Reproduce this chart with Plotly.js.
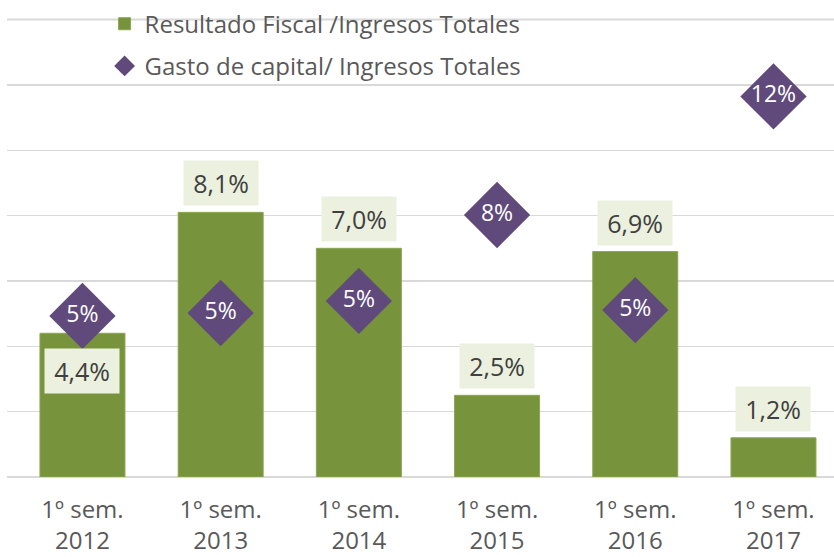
<!DOCTYPE html>
<html>
<head>
<meta charset="utf-8">
<script src="https://cdn.plot.ly/plotly-3.0.1.min.js"></script>
<style>html,body{margin:0;padding:0;background:#fff}#chart{width:834px;height:557px}</style>
</head>
<body>
<div id="chart"></div>
<script>
const categories = ["1º sem.<br>2012", "1º sem.<br>2013", "1º sem.<br>2014", "1º sem.<br>2015", "1º sem.<br>2016", "1º sem.<br>2017"];
const resultadoName = "Resultado Fiscal /Ingresos Totales";
const gastoName = "Gasto de capital/ Ingresos Totales";
const resultado = [4.4, 8.1, 7.0, 2.5, 6.9, 1.2];
const resultadoLabels = ["4,4%", "8,1%", "7,0%", "2,5%", "6,9%", "1,2%"];
const gasto = [4.93, 5.02, 5.39, 8.02, 5.11, 11.65];
const gastoLabels = ["5%", "5%", "5%", "8%", "5%", "12%"];
const yGrid = [0, 2, 4, 6, 8, 10, 12, 14];

const FONT = "Open Sans, Lato, sans-serif";
const GREEN = "#77933C";
const PURPLE = "#604A7B";
const GRID = "#D9D9D9";

const traces = [
  {
    type: "bar",
    name: resultadoName,
    x: categories,
    y: resultado,
    width: 0.615,
    marker: {color: GREEN, line: {color: "#8aa653", width: 1}},
    hoverinfo: "skip",
    legendgroup: "a"
  },
  {
    type: "scatter",
    mode: "markers+text",
    name: gastoName,
    x: categories,
    y: gasto,
    text: gastoLabels,
    textposition: "middle center",
    textfont: {family: FONT, size: 23, color: "#ffffff"},
    marker: {symbol: "diamond", size: 51, color: PURPLE},
    cliponaxis: false,
    hoverinfo: "skip",
    legendgroup: "b"
  }
];

const annotations = resultado.map((v, i) => {
  const inside = (i === 0);
  return {
    x: i, y: v, xref: "x", yref: "y",
    text: resultadoLabels[i],
    showarrow: false,
    yanchor: inside ? "top" : "bottom",
    yshift: inside ? -15 : 6,
    bgcolor: "#EBF1DE",
    borderpad: 0,
    width: 74, height: 44,
    font: {family: FONT, size: 25, color: "#404040"}
  };
});

const topGrid = yGrid[yGrid.length - 1];

const layout = {
  width: 834, height: 557,
  margin: {l: 7, r: 0, t: 0, b: 80},
  paper_bgcolor: "#ffffff",
  plot_bgcolor: "#ffffff",
  font: {family: FONT, color: "#595959"},
  showlegend: true,
  legend: {
    x: 0.118, xanchor: "left",
    y: 0.9966, yanchor: "top",
    bgcolor: "rgba(255,255,255,0)",
    bordercolor: "rgba(255,255,255,0)",
    borderwidth: 0,
    font: {family: FONT, size: 24, color: "#595959"},
    traceorder: "grouped",
    tracegroupgap: 8,
    itemwidth: 30
  },
  xaxis: {
    type: "category",
    range: [-0.546, 5.438],
    showgrid: false,
    zeroline: false,
    showline: false,
    ticks: "",
    ticklabelstandoff: 16,
    tickfont: {family: FONT, size: 24, color: "#595959"},
    fixedrange: true
  },
  yaxis: {
    range: [0, 14.6],
    tickvals: yGrid,
    showgrid: true,
    gridcolor: GRID,
    gridwidth: 1.5,
    zeroline: true,
    zerolinecolor: GRID,
    zerolinewidth: 1.5,
    showticklabels: false,
    ticks: "",
    fixedrange: true
  },
  shapes: [{
    type: "line", layer: "above",
    xref: "paper", x0: 0, x1: 1,
    yref: "y", y0: topGrid, y1: topGrid,
    line: {color: GRID, width: 2}
  }],
  annotations: annotations,
  bargap: 0.38
};

Plotly.newPlot("chart", traces, layout, {displayModeBar: false, staticPlot: true});
</script>
</body>
</html>
